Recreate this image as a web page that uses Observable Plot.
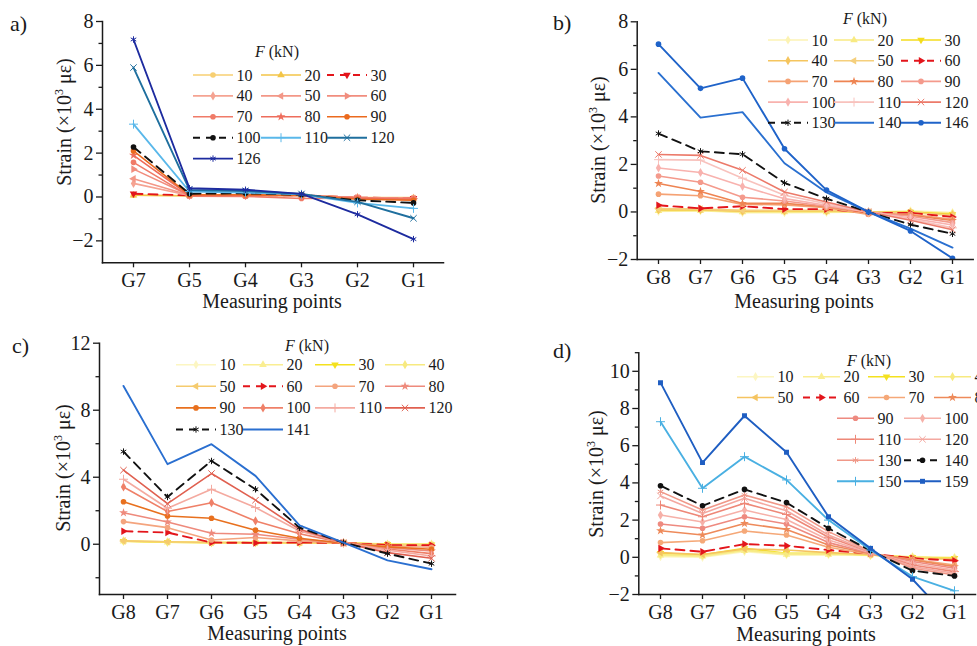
<!DOCTYPE html>
<html><head><meta charset="utf-8">
<script src="https://cdn.jsdelivr.net/npm/d3@7"></script>
<script src="https://cdn.jsdelivr.net/npm/@observablehq/plot@0.6"></script>
<style>
body{margin:0;background:#fff;}
#root{position:relative;width:977px;height:646px;overflow:hidden;background:#fff;}
#root svg.plot{position:absolute;}
#overlay{position:absolute;left:0;top:0;pointer-events:none;}
</style></head><body><div id="root"></div>
<script>
// ================= DATA =================
// ---- panel a ----
const aPoints = ["G7","G5","G4","G3","G2","G1"];
const aForces = [10,20,30,40,50,60,70,80,90,100,110,120,126];
const aStrain = [
  [0.08,0.06,0.05,0.08,-0.02,-0.02],
  [0.08,0.06,0.06,0.08,-0.03,-0.05],
  [0.15,0.07,0.07,0.08,-0.03,-0.05],
  [0.62,0.07,0.07,0.08,-0.03,-0.06],
  [0.83,0.08,0.08,0.08,-0.04,-0.07],
  [1.27,0.08,0.08,0.07,-0.04,-0.08],
  [1.58,0.04,0.03,-0.07,-0.05,-0.08],
  [1.90,0.08,0.08,0.07,-0.06,-0.12],
  [2.10,0.10,0.10,0.08,-0.10,-0.15],
  [2.28,0.15,0.17,0.10,-0.15,-0.27],
  [3.32,0.25,0.20,0.12,-0.27,-0.52],
  [5.90,0.32,0.27,0.14,-0.22,-0.97],
  [7.18,0.40,0.33,0.14,-0.79,-1.92]
];
const aYTicks = [-2,0,2,4,6,8];
const aYMinor = [-1,1,3,5,7];

// ---- panel b ----
const bPoints = ["G8","G7","G6","G5","G4","G3","G2","G1"];
const bForces = [10,20,30,40,50,60,70,80,90,100,110,120,130,140,146];
const bStrain = [
  [0.02,0.05,-0.03,-0.03,-0.02,0.00,0.05,-0.03],
  [0.05,0.06,0.00,0.00,0.00,0.00,0.00,-0.06],
  [0.10,0.10,0.05,0.05,0.05,0.00,0.00,-0.10],
  [0.10,0.10,0.03,0.05,0.05,0.00,-0.02,-0.12],
  [0.14,0.12,0.07,0.07,0.07,0.00,-0.03,-0.15],
  [0.28,0.15,0.24,0.12,0.12,-0.04,-0.04,-0.21],
  [0.75,0.68,0.32,0.30,0.18,-0.10,-0.10,-0.31],
  [1.20,0.86,0.36,0.36,0.22,-0.02,-0.14,-0.36],
  [1.51,1.25,0.62,0.46,0.24,0.00,-0.18,-0.45],
  [1.85,1.66,1.08,0.56,0.28,0.00,-0.26,-0.55],
  [2.20,2.18,1.42,0.70,0.35,0.00,-0.30,-0.67],
  [2.42,2.38,1.75,0.84,0.42,0.00,-0.35,-0.75],
  [3.30,2.55,2.43,1.22,0.56,0.00,-0.53,-0.92],
  [5.85,3.97,4.20,2.05,0.82,0.00,-0.70,-1.50],
  [7.06,5.20,5.63,2.66,0.92,0.00,-0.80,-1.95]
];
const bYTicks = [-2,0,2,4,6,8];
const bYMinor = [-1,1,3,5,7];

// ---- panel c ----
const cPoints = ["G8","G7","G6","G5","G4","G3","G2","G1"];
const cForces = [10,20,30,40,50,60,70,80,90,100,110,120,130,141];
const cStrain = [
  [0.18,0.12,0.08,0.08,0.06,0.08,0.02,0.02],
  [0.18,0.12,0.08,0.08,0.06,0.08,0.00,0.00],
  [0.18,0.12,0.10,0.10,0.08,0.08,0.00,-0.02],
  [0.20,0.14,0.10,0.10,0.08,0.08,-0.02,-0.04],
  [0.20,0.15,0.10,0.10,0.10,0.08,-0.03,-0.06],
  [0.78,0.70,0.10,0.08,0.10,0.08,-0.05,-0.06],
  [1.35,0.99,0.25,0.40,0.20,0.08,-0.12,-0.18],
  [1.88,1.33,0.66,0.60,0.30,0.08,-0.20,-0.40],
  [2.54,1.69,1.55,0.84,0.36,0.06,-0.16,-0.30],
  [3.42,1.95,2.48,1.39,0.63,0.08,-0.28,-0.56],
  [3.88,2.15,3.28,2.19,0.79,0.08,-0.35,-0.70],
  [4.42,2.42,4.22,2.63,0.89,0.08,-0.50,-0.84],
  [5.53,2.82,4.97,3.28,0.99,0.10,-0.56,-1.16],
  [9.45,4.78,5.97,4.08,1.13,0.10,-0.96,-1.49]
];
const cYTicks = [0,4,8,12];
const cYMinor = [-2,2,6,10];

// ---- panel d ----
const dPoints = ["G8","G7","G6","G5","G4","G3","G2","G1"];
const dForces = [10,20,30,40,50,60,70,80,90,100,110,120,130,140,150,159];
const dStrain = [
  [0.03,0.00,0.30,0.13,0.13,0.10,0.04,0.00],
  [0.10,0.05,0.35,0.15,0.15,0.12,0.02,-0.03],
  [0.22,0.13,0.48,0.22,0.22,0.12,0.00,-0.05],
  [0.15,0.10,0.39,0.20,0.20,0.12,-0.02,-0.08],
  [0.25,0.15,0.45,0.39,0.25,0.15,-0.05,-0.10],
  [0.48,0.30,0.71,0.62,0.39,0.20,-0.05,-0.18],
  [0.79,0.89,1.41,1.20,0.54,0.15,-0.11,-0.41],
  [1.43,1.20,1.82,1.50,0.66,0.20,-0.14,-0.50],
  [1.79,1.56,2.18,1.79,0.79,0.22,-0.23,-0.59],
  [2.27,1.90,2.54,2.03,0.93,0.25,-0.32,-0.68],
  [2.81,2.18,2.90,2.30,1.08,0.28,-0.41,-0.77],
  [3.30,2.36,3.17,2.50,1.20,0.30,-0.50,-0.86],
  [3.53,2.54,3.35,2.72,1.38,0.32,-0.59,-0.95],
  [3.85,2.77,3.65,2.94,1.56,0.36,-0.72,-1.00],
  [7.29,3.71,5.41,4.16,2.00,0.39,-1.04,-1.80],
  [9.39,5.09,7.61,5.65,2.18,0.48,-1.18,-3.60]
];
const dYTicks = [-2,0,2,4,6,8,10];
const dYMinor = [-1,1,3,5,7,9,11];

// ================= STYLES =================
const aColors = ["#f7cf72","#f3c547","#e3151b","#f5a392","#f39787","#f18d7e","#f07b68","#ee6d5c","#eb6a1e","#111111","#5ab8ea","#1f6f9e","#1d2b9f"];
const aSymbols = ["circle","triangle","triangle-down","diamond","triangle-left","triangle-right","circle","star","circle","circle","plus","times","asterisk"];
const aDashed = [0,0,1,0,0,0,0,0,0,1,0,0,0];

const bColors = ["#fcf3b4","#f8ea82","#f4dc1c","#f5c55e","#f5cf7c","#e3151b","#f5a274","#ee8452","#f49a8c","#f8b2ae","#f8c2bd","#ec7a6a","#111111","#2a70d0","#1f63c9"];
const bSymbols = ["diamond","triangle","triangle-down","diamond","triangle-left","triangle-right","circle","star","circle","diamond","plus","times","asterisk","none","circle"];
const bDashed = [0,0,0,0,0,1,0,0,0,0,0,0,1,0,0];

const cColors = ["#fcf6c2","#faee92","#f4e11e","#f7ea80","#f5cb6e","#e3151b","#f4a47e","#ee8a7c","#e8701e","#ef8068","#f4aaa0","#e06050","#111111","#2a6fd0"];
const cSymbols = ["diamond","triangle","triangle-down","diamond","triangle-left","triangle-right","circle","star","circle","diamond","plus","times","asterisk","none"];
const cDashed = [0,0,0,0,0,1,0,0,0,0,0,0,1,0];

const dColors = ["#fcf6c2","#faee92","#f4e11e","#f7ea80","#f5c460","#e3151b","#f5a878","#ee8a5a","#ee8a80","#f6b0a8","#ee8878","#f4a8a0","#f09888","#111111","#4ab0e2","#1f5ec2"];
const dSymbols = ["diamond","triangle","triangle-down","diamond","triangle-left","triangle-right","circle","star","circle","diamond","plus","times","asterisk","circle","plus","square"];
const dDashed = [0,0,0,0,0,1,0,0,0,0,0,0,0,1,0,0];

// ================= RENDER =================
const FONT = "Liberation Serif, Times New Roman, serif";
const root = document.getElementById("root");
const SYM = {circle:d3.symbolCircle, triangle:d3.symbolTriangle, diamond:d3.symbolDiamond, star:d3.symbolStar,
  plus:d3.symbolPlus, times:d3.symbolTimes, asterisk:d3.symbolAsterisk, square:d3.symbolSquare};
const STROKE_SYM = new Set(["plus","times","asterisk"]);
const ROT = {down:180, left:-90, right:90};
function parseSym(s){ const [base, dir] = s.split("-"); return {base, rot: dir ? ROT[dir] : 0}; }
function lineWidth(color, dashed){ return dashed ? 1.9 : (/^#(1|2|4|5)/.test(color) ? 1.9 : 1.6); }
function symR(base){ return STROKE_SYM.has(base) ? 3.0 : 2.8; }

function panel(p){
  const rows = p.forces.flatMap((f,i)=>p.points.map((g,j)=>({f, g, v:p.strain[i][j]})));
  const marks = [];
  p.forces.forEach((f,i)=>{
    const d = rows.filter(r=>r.f===f);
    const col = p.colors[i], dashed = p.dashed[i];
    marks.push(Plot.line(d,{x:"g", y:"v", stroke:col, strokeWidth:lineWidth(col,dashed),
      strokeDasharray: dashed ? "9,6" : null, clip:true}));
    const s = parseSym(p.symbols[i]);
    if (s.base !== "none") {
      const isStroke = STROKE_SYM.has(s.base);
      marks.push(Plot.dot(d,{x:"g", y:"v", symbol:s.base, rotate:s.rot, r: symR(s.base),
        fill: isStroke ? "none" : col, stroke: isStroke ? col : "none", strokeWidth: 1, clip:true}));
    }
  });
  marks.push(Plot.axisY({ticks:p.yTicks, tickSize:6, tickPadding:3, label:null, strokeWidth:1.3}));
  marks.push(Plot.axisY({ticks:p.yMinor, tickSize:3.5, tickFormat:()=>"", label:null, strokeWidth:1.3}));
  marks.push(Plot.axisX({tickSize:5, tickPadding:5, label:null, strokeWidth:1.3}));
  marks.push(Plot.frame({anchor:"left", strokeWidth:1.5}));
  marks.push(Plot.frame({anchor:"bottom", strokeWidth:1.5}));
  const svg = Plot.plot({
    width:p.w, height:p.h, marginLeft:p.ml, marginRight:p.mr, marginTop:p.mt, marginBottom:p.mb,
    x:{type:"point", domain:p.points, padding:0.5, label:null},
    y:{domain:p.yDomain, label:null},
    style:{fontFamily:FONT, fontSize:"20px", color:"#1a1a1a", background:"transparent", overflow:"visible"},
    marks
  });
  svg.classList.add("plot");
  svg.style.left = p.left + "px";
  svg.style.top = p.top + "px";
  root.appendChild(svg);
}

panel({points:aPoints, forces:aForces, strain:aStrain, colors:aColors, symbols:aSymbols, dashed:aDashed,
  yDomain:[-3,8], yTicks:aYTicks, yMinor:aYMinor, left:0, top:0, w:470, h:300, ml:102, mr:27, mt:21, mb:37.7});
panel({points:bPoints, forces:bForces, strain:bStrain, colors:bColors, symbols:bSymbols, dashed:bDashed,
  yDomain:[-2,8], yTicks:bYTicks, yMinor:bYMinor, left:480, top:0, w:497, h:300, ml:156.7, mr:4.3, mt:21.3, mb:41});
panel({points:cPoints, forces:cForces, strain:cStrain, colors:cColors, symbols:cSymbols, dashed:cDashed,
  yDomain:[-3,12], yTicks:cYTicks, yMinor:cYMinor, left:0, top:320, w:470, h:326, ml:99, mr:15, mt:22.7, mb:52});
panel({points:dPoints, forces:dForces, strain:dStrain, colors:dColors, symbols:dSymbols, dashed:dDashed,
  yDomain:[-2,11], yTicks:dYTicks, yMinor:dYMinor, left:480, top:320, w:497, h:326, ml:158.3, mr:2, mt:32.2, mb:52});

// ---------- overlay: labels and legends ----------
const ov = d3.select(root).append("svg").attr("id","overlay").attr("width",977).attr("height",646)
  .style("font-family", FONT).style("fill","#1a1a1a");

const letters = [["a)",10,31],["b)",553,30],["c)",12,353],["d)",553,358]];
letters.forEach(([t,x,y])=>ov.append("text").attr("x",x).attr("y",y).attr("font-size",22).text(t));

const xTitles = [[272,308],[804,308],[277,640],[806,641]];
xTitles.forEach(([x,y])=>ov.append("text").attr("x",x).attr("y",y).attr("text-anchor","middle")
  .attr("font-size",20).text("Measuring points"));

const yTitles = [[64,122],[598,140],[63,468],[596,474]];
yTitles.forEach(([x,y])=>{
  const t = ov.append("text").attr("transform",`translate(${x},${y}) rotate(-90)`)
    .attr("text-anchor","middle").attr("dy","0.35em").attr("font-size",20);
  t.append("tspan").text("Strain (×10");
  t.append("tspan").attr("dy",-8).attr("font-size",12).text("3");
  t.append("tspan").attr("dy",8).text(" με)");
});

function legend(forces, colors, symbols, dashed, title, slots, len){
  const [tx,ty] = title;
  const tt = ov.append("text").attr("x",tx).attr("y",ty).attr("font-size",16);
  tt.append("tspan").attr("font-style","italic").text("F");
  tt.append("tspan").text(" (kN)");
  forces.forEach((f,i)=>{
    const [x,y] = slots[i];
    const col = colors[i], ds = dashed[i];
    ov.append("line").attr("x1",x).attr("x2",x+len).attr("y1",y).attr("y2",y)
      .attr("stroke",col).attr("stroke-width",lineWidth(col,ds)).attr("stroke-dasharray", ds ? "7,6" : null);
    const s = parseSym(symbols[i]);
    if (s.base !== "none") {
      const isStroke = STROKE_SYM.has(s.base);
      const r = symR(s.base);
      ov.append("path").attr("d", d3.symbol(SYM[s.base], Math.PI*r*r)())
        .attr("transform",`translate(${x+len/2},${y}) rotate(${s.rot})`)
        .attr("fill", isStroke ? "none" : col).attr("stroke", isStroke ? col : "none").attr("stroke-width",1);
    }
    ov.append("text").attr("x",x+len+3.5).attr("y",y+5.5).attr("font-size",16).text(f);
  });
}
function grid(cols, y0, step, n){ return d3.range(n).map(i=>[cols[i%cols.length], y0 + Math.floor(i/cols.length)*step]); }

legend(aForces, aColors, aSymbols, aDashed, [255,57], grid([193,261,327], 75, 20.9, aForces.length), 40);
legend(bForces, bColors, bSymbols, bDashed, [843,24], grid([768,834,901], 40, 20.7, bForces.length), 40);
legend(cForces, cColors, cSymbols, cDashed, [285,351], grid([176,243,315,385], 364.7, 21.6, cForces.length), 40);
legend(dForces, dColors, dSymbols, dDashed, [847,366],
  grid([737,803,868,934], 376.7, 20.8, 8).concat(grid([837,904], 418.3, 21, 8)), 37);
</script></body></html>
